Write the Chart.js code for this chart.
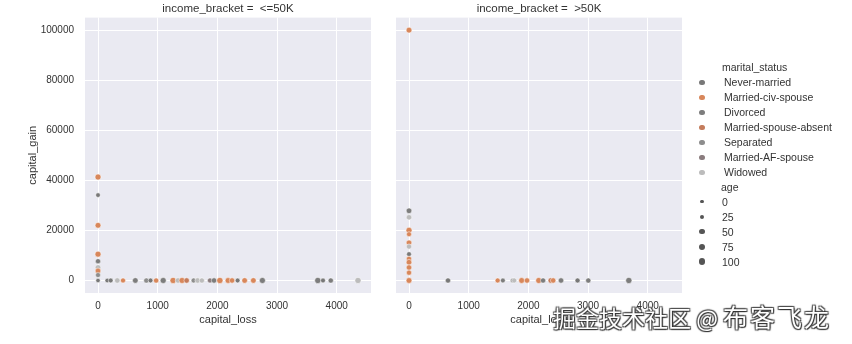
<!DOCTYPE html>
<html>
<head>
<meta charset="utf-8">
<script src="https://cdn.jsdelivr.net/npm/chart.js@4/dist/chart.umd.min.js"></script>
<style>
  html, body { margin:0; padding:0; background:#fff; }
  body { width:852px; height:344px; position:relative; overflow:hidden; font-family:"Liberation Sans", Arial, sans-serif; color:#333; }
  canvas { position:absolute; left:0; top:0; }
  #legend { position:absolute; left:0; top:0; width:852px; height:344px; pointer-events:none; }
  .lt { position:absolute; font-size:10.5px; line-height:12px; white-space:nowrap; color:#333; }
  .dot { position:absolute; border-radius:50%; }
  #wm { position:absolute; left:553px; top:303px; font-family:"Noto Sans CJK SC", sans-serif; font-size:23px; line-height:26px; color:#fff; white-space:nowrap;
        text-shadow: 0 0 1px #222, 1px 1px 1px #333, -1px -1px 1px #555, 1px -1px 1px #555, -1px 1px 1px #555; }
  #wm .b { font-size:25px; letter-spacing:2px; }
</style>
</head>
<body>
<canvas id="c1" width="852" height="344"></canvas>
<canvas id="c2" width="852" height="344"></canvas>
<div id="legend"></div>
<div id="wm">掘金技术社区 @ <span class="b">布客飞龙</span></div>
<script>
// ---- data ----
const statuses = ['Never-married','Married-civ-spouse','Divorced','Married-spouse-absent','Separated','Married-AF-spouse','Widowed'];
const panelTitles = ['income_bracket =  <=50K', 'income_bracket =  >50K'];
const xTicks = [0, 1000, 2000, 3000, 4000];
const yTicks = [0, 20000, 40000, 60000, 80000, 100000];
const ageLegend = [0, 25, 50, 75, 100];

// panel <=50K
const lowLoss   = [0,0,0,0,0,0,0,0,0, 155,213,323,419,625,810,880,974,1092,1258,1340,1408,1485,1602,1669,1740,1876,1944,2042,2179,2246,2339,2457,2603,2754,3683,3770,3900,4356];
const lowGain   = [41310,34095,22040,10520,7688,5178,3818,2174,0, 0,0,0,0,0,0,0,0,0,0,0,0,0,0,0,0,0,0,0,0,0,0,0,0,0,0,0,0,0];
const lowStatus = [1,0,1,1,2,6,1,4,0, 0,0,6,1,2,4,0,1,2,1,6,1,3,4,6,6,5,2,1,1,1,0,1,1,2,2,0,2,6];
const lowAge    = [60,25,55,60,40,50,50,35,20, 25,30,45,35,50,40,30,40,60,65,45,60,45,35,45,40,35,45,65,55,45,30,50,50,60,65,30,40,65];

// panel >50K
const highLoss   = [0,0,0,0,0,0,0,0,0,0,0,0,0, 653,1485,1573,1740,1762,1887,1977,2174,2246,2377,2415,2547,2824,3004,3683];
const highGain   = [99999,27828,25236,20051,18481,15024,13550,10520,8614,7298,5178,3103,0, 0,0,0,0,0,0,0,0,0,0,0,0,0,0,0];
const highStatus = [1,2,6,1,1,1,6,0,1,1,1,1,1, 0,1,2,4,6,1,1,1,2,3,1,2,0,2,2];
const highAge    = [55,50,45,60,35,50,40,30,45,50,45,40,55, 40,35,30,35,35,55,45,60,40,50,45,45,35,40,65];

// ---- styles ----
const palette = ['#787878','#d8875b','#7d7d7d','#c47c5c','#8d8d8d','#8a7c7e','#bcbcbc'];
const TXT = '#333';
const radiusFor = a => 1.8 + a * 0.02;

const bgPlugin = {
  id: 'bgPlot',
  beforeDraw(chart) {
    const {ctx, chartArea: a} = chart;
    ctx.save();
    ctx.fillStyle = '#eaeaf2';
    ctx.fillRect(a.left, a.top, a.right - a.left, a.bottom - a.top);
    ctx.restore();
  }
};

function makeChart(id, title, loss, gain, status, age, showY, padLeft, padRight) {
  const pts = loss.map((v, i) => ({x: v, y: gain[i]}));
  return new Chart(document.getElementById(id), {
    type: 'scatter',
    data: { datasets: [{
      data: pts,
      backgroundColor: ctx => palette[status[ctx.dataIndex]],
      borderColor: '#ffffff',
      borderWidth: 0.5,
      pointRadius: ctx => radiusFor(age[ctx.dataIndex]),
      pointHoverRadius: ctx => radiusFor(age[ctx.dataIndex])
    }]},
    plugins: [bgPlugin],
    options: {
      responsive: false,
      animation: false,
      events: [],
      layout: { padding: { left: padLeft, right: padRight, top: 0, bottom: 0 } },
      plugins: {
        legend: { display: false },
        tooltip: { enabled: false },
        title: { display: true, text: title, fullSize: false, color: TXT,
                 font: { size: 11.5, family: '"Liberation Sans", Arial, sans-serif', weight: 'normal' },
                 padding: { top: 2, bottom: 1.8 } }
      },
      scales: {
        x: {
          type: 'linear', min: -218, max: 4574,
          afterBuildTicks: s => { s.ticks = xTicks.map(v => ({value: v})); },
          afterFit: s => { s.height = 51; },
          grid: { color: '#ffffff', lineWidth: 1, drawTicks: false },
          border: { display: false },
          ticks: { color: TXT, padding: 7, font: { size: 10, family: '"Liberation Sans", Arial, sans-serif' },
                   callback: v => String(v), maxRotation: 0 },
          title: { display: true, text: 'capital_loss', color: TXT,
                   font: { size: 11, family: '"Liberation Sans", Arial, sans-serif' },
                   padding: { top: 0, bottom: 17 } }
        },
        y: {
          type: 'linear', min: -5000, max: 104999,
          afterBuildTicks: s => { s.ticks = yTicks.map(v => ({value: v})); },
          afterFit: s => { s.width = showY ? 85 : 0; },
          grid: { color: '#ffffff', lineWidth: 1, drawTicks: false },
          border: { display: false },
          ticks: { display: showY, color: TXT, padding: 11, font: { size: 10, family: '"Liberation Sans", Arial, sans-serif' },
                   callback: v => String(v) },
          title: { display: showY, text: 'capital_gain', color: TXT,
                   font: { size: 11, family: '"Liberation Sans", Arial, sans-serif' },
                   padding: { top: 26, bottom: 0 } }
        }
      }
    }
  });
}

makeChart('c1', panelTitles[0], lowLoss, lowGain, lowStatus, lowAge, true, 0, 852 - 371);
makeChart('c2', panelTitles[1], highLoss, highGain, highStatus, highAge, false, 396, 852 - 682);

// ---- legend ----
const lg = document.getElementById('legend');
function addText(txt, left, cy) {
  const d = document.createElement('div');
  d.className = 'lt'; d.textContent = txt;
  d.style.left = left + 'px'; d.style.top = (cy - 6) + 'px';
  lg.appendChild(d);
}
function addDot(cx, cy, r, color) {
  const d = document.createElement('div');
  d.className = 'dot';
  d.style.width = (2*r) + 'px'; d.style.height = (2*r) + 'px';
  d.style.left = (cx - r) + 'px'; d.style.top = (cy - r) + 'px';
  d.style.background = color;
  lg.appendChild(d);
}
addText('marital_status', 722, 67);
statuses.forEach((s, i) => {
  const cy = 82.3 + i * 15;
  addDot(702, cy, 2.7, palette[i]);
  addText(s, 724, cy);
});
addText('age', 721, 186.7);
ageLegend.forEach((a, i) => {
  const cy = 201.7 + i * 15;
  addDot(702, cy, radiusFor(a) * 0.9, '#555555');
  addText(String(a), 722, cy);
});
</script>
</body>
</html>
